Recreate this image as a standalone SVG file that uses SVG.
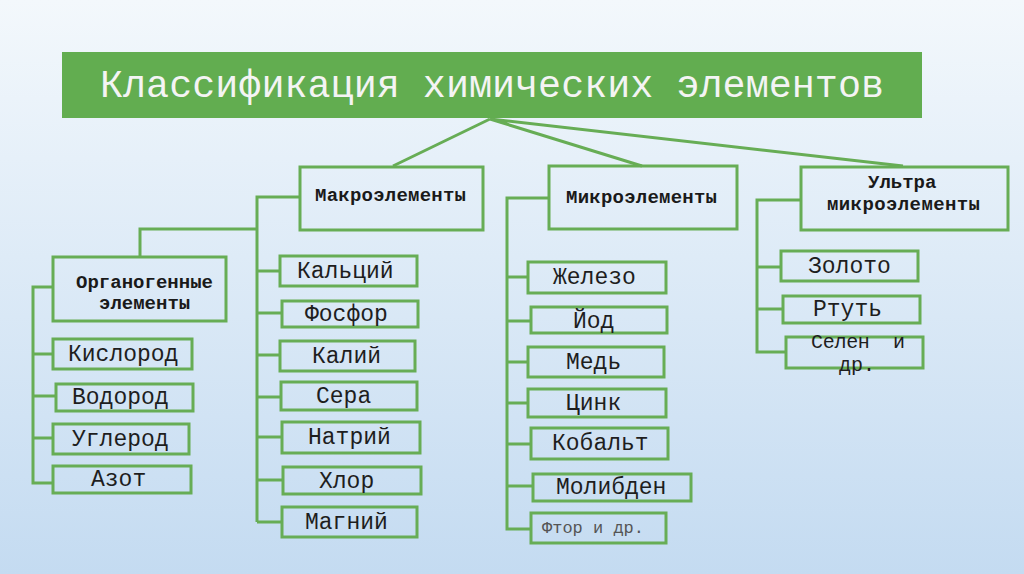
<svg xmlns="http://www.w3.org/2000/svg" width="1024" height="574" viewBox="0 0 1024 574">
<defs>
<linearGradient id="bg" x1="0" y1="0" x2="0" y2="1">
<stop offset="0" stop-color="#f3f8fc"/>
<stop offset="1" stop-color="#c4dbf1"/>
</linearGradient>
<style>
.box{fill:none;stroke:#67ad55;stroke-width:3}
.ln{fill:none;stroke:#67ad55;stroke-width:3}
.t{font-family:"Liberation Mono","Courier New",monospace;font-size:23px;fill:#1e1e1e}
.t2{font-family:"Liberation Mono","Courier New",monospace;font-size:20px;fill:#1e1e1e}
.h{font-family:"Liberation Mono","Courier New",monospace;font-size:19px;font-weight:bold;fill:#1a1a1a}
.s{font-family:"Liberation Mono","Courier New",monospace;font-size:17px;fill:#555}
.title{font-family:"Liberation Mono","Courier New",monospace;font-size:38px;fill:#f4f4f4}
</style>
</defs>
<rect width="1024" height="574" fill="url(#bg)"/>

<g id="connectors">
<path class="ln" d="M490 119 L393 166 M490 119 L642 166 M490 119 L903 166"/>
<path class="ln" d="M300 197 H257 V522 M257 229 H140 V257 M257 271 H280 M257 313 H282 M257 355 H280 M257 397 H281 M257 437 H282 M257 480 H283 M257 522 H282"/>
<path class="ln" d="M53 287 H33 V483 H53 M33 354 H53 M33 396 H56 M33 438 H53"/>
<path class="ln" d="M549 198 H507 V529 H531 M507 277 H528 M507 321 H531 M507 362 H528 M507 403 H528 M507 444 H531 M507 486 H533"/>
<path class="ln" d="M801 200 H757 V352 H786 M757 267 H781 M757 309 H783"/>
</g>

<g id="title">
<rect x="62" y="52" width="860" height="66" fill="#62ad50"/>
<text class="title" x="100" y="97" textLength="784" lengthAdjust="spacingAndGlyphs">Классификация химических элементов</text>
</g>

<g id="macro">
<rect class="box" x="300" y="167" width="183" height="63"/>
<text class="h" x="315" y="201" textLength="151">Макроэлементы</text>
</g>
<g id="micro">
<rect class="box" x="549" y="166" width="188" height="63"/>
<text class="h" x="566" y="203" textLength="151">Микроэлементы</text>
</g>
<g id="ultra">
<rect class="box" x="801" y="167" width="207" height="63"/>
<text class="h" x="868" y="188">Ультра</text>
<text class="h" x="827" y="210" textLength="153">микроэлементы</text>
</g>
<g id="organogen">
<rect class="box" x="53" y="257" width="173" height="64"/>
<text class="h" x="76" y="288" textLength="137">Органогенные</text>
<text class="h" x="99" y="309">элементы</text>
</g>

<g id="kislorod"><rect class="box" x="53" y="339" width="139" height="30"/><text class="t" x="68" y="361">Кислород</text></g>
<g id="vodorod"><rect class="box" x="56" y="384" width="137" height="27"/><text class="t" x="72" y="404">Водород</text></g>
<g id="uglerod"><rect class="box" x="53" y="424" width="136" height="30"/><text class="t" x="72" y="446">Углерод</text></g>
<g id="azot"><rect class="box" x="53" y="466" width="138" height="27"/><text class="t" x="91" y="486">Азот</text></g>

<g id="kalciy"><rect class="box" x="280" y="256" width="137" height="30"/><text class="t" x="297" y="278">Кальций</text></g>
<g id="fosfor"><rect class="box" x="282" y="301" width="136" height="26"/><text class="t" x="305" y="321">Фосфор</text></g>
<g id="kaliy"><rect class="box" x="280" y="341" width="135" height="30"/><text class="t" x="312" y="363">Калий</text></g>
<g id="sera"><rect class="box" x="281" y="382" width="136" height="28"/><text class="t" x="316" y="403">Сера</text></g>
<g id="natriy"><rect class="box" x="282" y="422" width="138" height="31"/><text class="t" x="308" y="444">Натрий</text></g>
<g id="hlor"><rect class="box" x="283" y="467" width="138" height="27"/><text class="t" x="319" y="488">Хлор</text></g>
<g id="magniy"><rect class="box" x="282" y="507" width="135" height="30"/><text class="t" x="305" y="529">Магний</text></g>

<g id="zhelezo"><rect class="box" x="528" y="262" width="138" height="31"/><text class="t" x="553" y="284">Железо</text></g>
<g id="yod"><rect class="box" x="531" y="307" width="136" height="26"/><text class="t" x="573" y="328">Йод</text></g>
<g id="med"><rect class="box" x="528" y="347" width="136" height="30"/><text class="t" x="566" y="369">Медь</text></g>
<g id="cink"><rect class="box" x="528" y="389" width="138" height="28"/><text class="t" x="566" y="410">Цинк</text></g>
<g id="kobalt"><rect class="box" x="531" y="428" width="137" height="31"/><text class="t" x="552" y="450">Кобальт</text></g>
<g id="molibden"><rect class="box" x="533" y="474" width="158" height="27"/><text class="t" x="556" y="494">Молибден</text></g>
<g id="ftor"><rect class="box" x="531" y="513" width="135" height="30"/><text class="s" x="542" y="533">Фтор и др.</text></g>

<g id="zoloto"><rect class="box" x="781" y="251" width="137" height="30"/><text class="t" x="808" y="273">Золото</text></g>
<g id="rtut"><rect class="box" x="783" y="296" width="137" height="27"/><text class="t" x="813" y="316">Ртуть</text></g>
<g id="selen"><rect class="box" x="786" y="337" width="137" height="31"/><text class="t2" x="811" y="348" xml:space="preserve" textLength="94">Селен  и</text><text class="t2" x="839" y="371" textLength="36">др.</text></g>
</svg>
